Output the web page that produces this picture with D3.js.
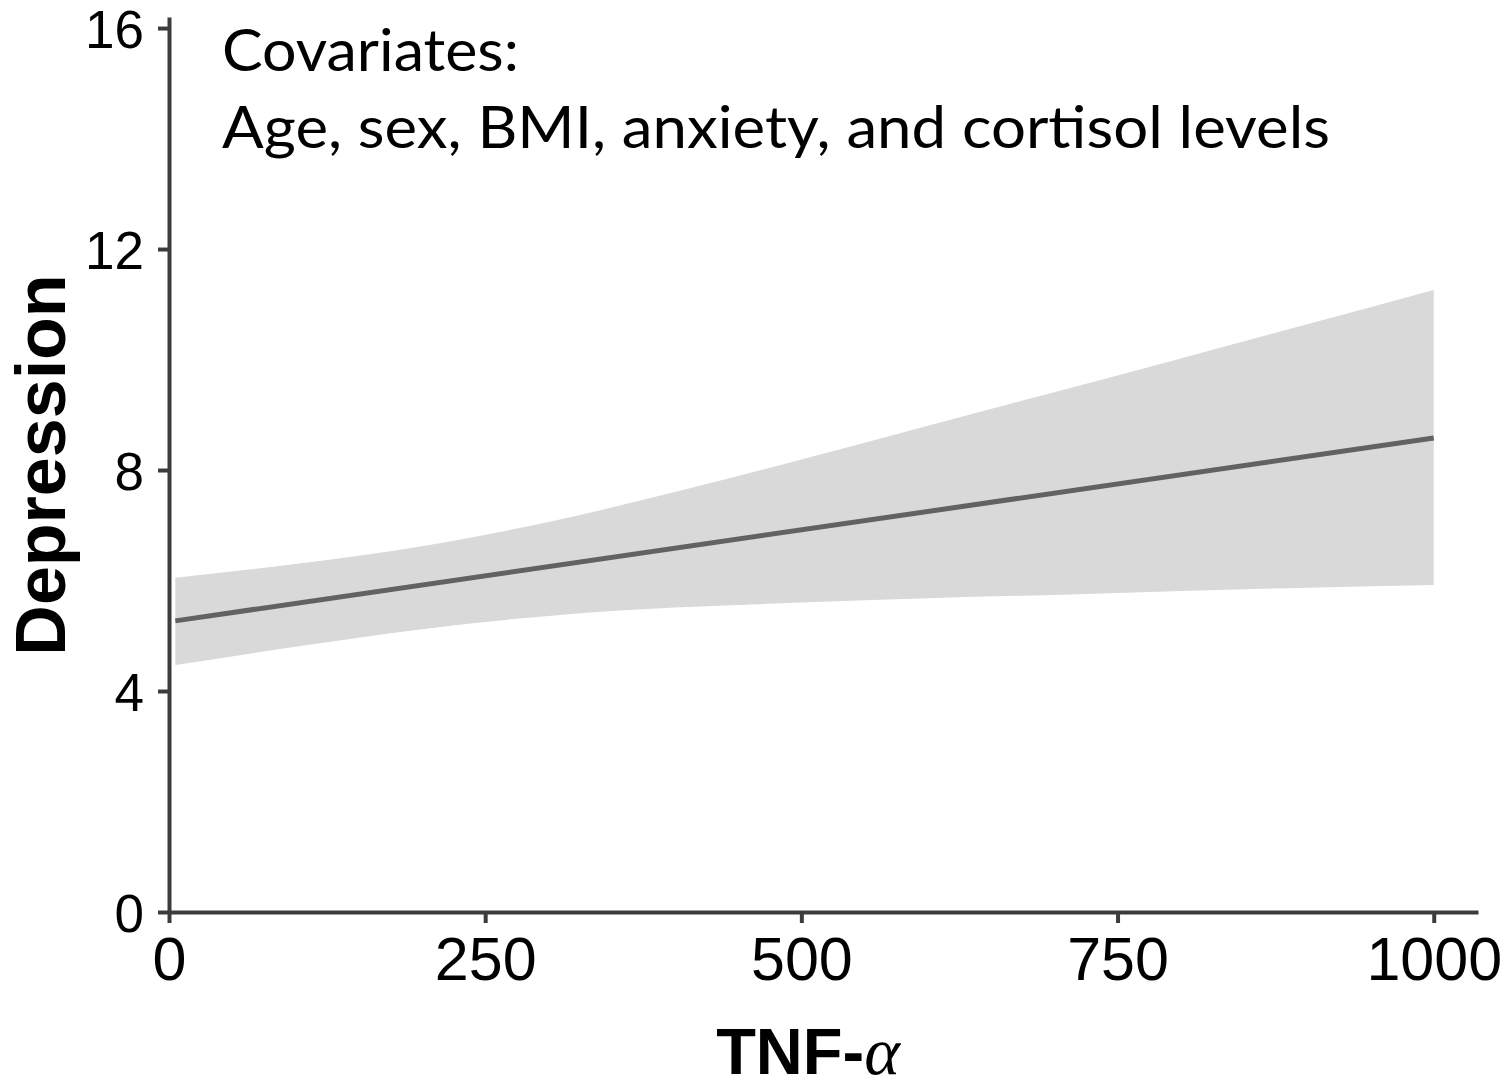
<!DOCTYPE html>
<html>
<head>
<meta charset="utf-8">
<script src="https://cdn.jsdelivr.net/npm/d3@7"></script>
<style>
  html, body { margin: 0; padding: 0; background: #fff; }
  svg { display: block; }
</style>
</head>
<body>
<svg id="chart" width="1508" height="1091"></svg>
<script>
// ---- data ----
const tnfValues   = [5, 100, 200, 300, 400, 500, 600, 700, 800, 900, 1000];
const ciUpper     = [6.05, 6.30, 6.62, 7.06, 7.60, 8.19, 8.80, 9.41, 10.02, 10.64, 11.26];
const ciLower     = [4.47, 4.80, 5.12, 5.36, 5.51, 5.60, 5.68, 5.74, 5.81, 5.87, 5.92];
const fitLineX    = [5, 1000];
const fitLineY    = [5.27, 8.58];
const xTickValues = [0, 250, 500, 750, 1000];
const yTickValues = [0, 4, 8, 12, 16];
const covTitle    = "Covariates:";
const covList     = "Age, sex, BMI, anxiety, and cortisol levels";
const yLabel      = "Depression";

const svg = d3.select("#chart");

const x = d3.scaleLinear().domain([0, 1035]).range([169, 1478]);
const y = d3.scaleLinear().domain([0, 16.2]).range([912, 17]);

// confidence band
const band = tnfValues.map((v, i) => ({x: v, lo: ciLower[i], hi: ciUpper[i]}));
svg.append("path")
  .datum(band)
  .attr("fill", "#d9d9d9")
  .attr("d", d3.area()
    .x(d => x(d.x))
    .y0(d => y(d.lo))
    .y1(d => y(d.hi))
    .curve(d3.curveMonotoneX));

// fitted line
const fit = fitLineX.map((v, i) => ({x: v, y: fitLineY[i]}));
svg.append("path")
  .datum(fit)
  .attr("fill", "none")
  .attr("stroke", "#626262")
  .attr("stroke-width", 5)
  .attr("d", d3.line().x(d => x(d.x)).y(d => y(d.y)));

// axes
const axisColor = "#3c3c3c";
const gx = svg.append("g")
  .attr("transform", `translate(0,${y(0)})`)
  .call(d3.axisBottom(x).tickValues(xTickValues).tickSize(11).tickSizeOuter(0).tickPadding(14).tickFormat(d3.format("d")));
const gy = svg.append("g")
  .attr("transform", `translate(${x(0)},0)`)
  .call(d3.axisLeft(y).tickValues(yTickValues).tickSize(11).tickSizeOuter(0).tickPadding(14).tickFormat(d3.format("d")));

[gx, gy].forEach(g => {
  g.select(".domain").attr("stroke", axisColor).attr("stroke-width", 4);
  g.selectAll(".tick line").attr("stroke", axisColor).attr("stroke-width", 4);
  g.selectAll(".tick text")
    .attr("fill", "#000")
    .attr("font-family", "'Liberation Sans', Arial, sans-serif");
});
gx.selectAll(".tick text").attr("font-size", 61).attr("dy", "0.71em");
gy.selectAll(".tick text").attr("font-size", 53).attr("dy", "0.36em");

// covariates text
svg.append("text")
  .attr("x", 222).attr("y", 71)
  .attr("font-family", "Lato, 'Open Sans', sans-serif")
  .attr("font-size", 58)
  .attr("fill", "#000")
  .attr("textLength", 297).attr("lengthAdjust", "spacingAndGlyphs")
  .text(covTitle);
svg.append("text")
  .attr("x", 222).attr("y", 148)
  .attr("font-family", "Lato, 'Open Sans', sans-serif")
  .attr("font-size", 58)
  .attr("fill", "#000")
  .attr("textLength", 1108).attr("lengthAdjust", "spacingAndGlyphs")
  .text(covList);

// y axis title
svg.append("text")
  .attr("transform", "translate(65,465) rotate(-90)")
  .attr("text-anchor", "middle")
  .attr("font-family", "'Liberation Sans', Arial, sans-serif")
  .attr("font-weight", "bold")
  .attr("font-size", 70)
  .attr("fill", "#000")
  .text(yLabel);

// x axis title
const xt = svg.append("text")
  .attr("x", 808).attr("y", 1074)
  .attr("text-anchor", "middle")
  .attr("font-family", "'Liberation Sans', Arial, sans-serif")
  .attr("font-weight", "bold")
  .attr("font-size", 65)
  .attr("fill", "#000");
xt.append("tspan").text("TNF-");
xt.append("tspan")
  .attr("font-family", "'Liberation Serif', 'DejaVu Serif', serif")
  .attr("font-style", "italic")
  .attr("font-weight", "normal")
  .attr("font-size", 68)
  .text("α");
</script>
</body>
</html>
